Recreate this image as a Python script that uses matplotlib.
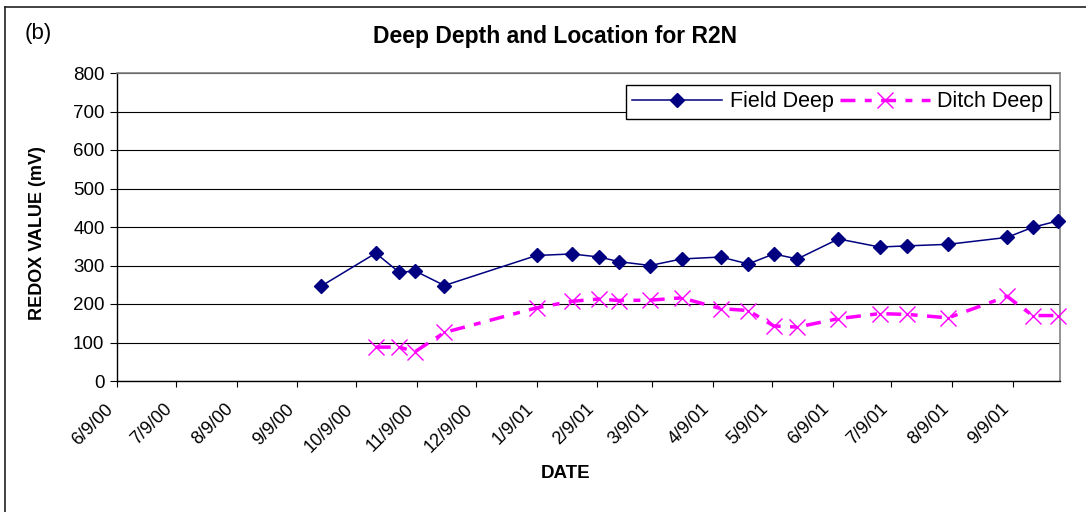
import matplotlib
matplotlib.use("Agg")
import matplotlib.pyplot as plt
import matplotlib.transforms as mtransforms
import numpy as np
import pandas as pd
from matplotlib.lines import Line2D

plt.rcParams["font.family"] = ["Liberation Sans", "DejaVu Sans"]

# sample dates and redox values (mV)
sample_dates = ["2000-09-21", "2000-10-19", "2000-10-31", "2000-11-08", "2000-11-23",
                "2001-01-09", "2001-01-27", "2001-02-10", "2001-02-20", "2001-03-08",
                "2001-03-24", "2001-04-13", "2001-04-27", "2001-05-10", "2001-05-22",
                "2001-06-12", "2001-07-03", "2001-07-17", "2001-08-07", "2001-09-06",
                "2001-09-19", "2001-10-02"]
field_deep = [246, 332, 282, 286, 248, 326, 330, 322, 310, 300, 317, 322, 304, 330,
              317, 369, 348, 351, 355, 373, 399, 416]
ditch_deep = [np.nan, 88, 88, 76, 126, 190, 207, 213, 209, 210, 216, 188, 183, 143,
              140, 162, 175, 173, 164, 220, 170, 170]

tick_dates = ["2000-06-09", "2000-07-09", "2000-08-09", "2000-09-09", "2000-10-09",
              "2000-11-09", "2000-12-09", "2001-01-09", "2001-02-09", "2001-03-09",
              "2001-04-09", "2001-05-09", "2001-06-09", "2001-07-09", "2001-08-09",
              "2001-09-09"]
tick_labels = ["6/9/00", "7/9/00", "8/9/00", "9/9/00", "10/9/00", "11/9/00", "12/9/00",
               "1/9/01", "2/9/01", "3/9/01", "4/9/01", "5/9/01", "6/9/01", "7/9/01",
               "8/9/01", "9/9/01"]

x = pd.to_datetime(sample_dates)
xt = pd.to_datetime(tick_dates)

W, H = 1086, 512
fig = plt.figure(figsize=(W / 100, H / 100), dpi=100)
ax = fig.add_axes([117 / W, 1 - 381 / H, (1060 - 117) / W, (381 - 73) / H])

ax.set_ylim(0, 800)
ax.set_yticks(range(0, 801, 100))
ax.set_xlim(pd.Timestamp("2000-06-09"), pd.Timestamp("2001-10-03"))
ax.yaxis.grid(True, color="black", lw=0.8)
ax.set_axisbelow(True)

ax.plot(x, field_deep, color="#000080", lw=1.1, marker="D", ms=7.5,
        label="Field Deep", clip_on=False, zorder=3)
m = ~np.isnan(np.array(ditch_deep))
ax.plot(x[m], np.array(ditch_deep)[m], color="#FF00FF", lw=2.5,
        ls=(0, (4.3, 2.7, 2, 2.7)), marker="x", ms=12, mew=1.0,
        label="Ditch Deep", clip_on=False, zorder=3)

ax.set_xticks(xt)
ax.set_xticklabels(tick_labels, rotation=45, ha="right", va="center",
                   rotation_mode="anchor")
ax.tick_params(axis="x", direction="out", length=4.5, width=0.8, labelsize=13, pad=14)
ax.tick_params(axis="y", direction="out", length=5, width=0.8, labelsize=13.5, pad=4)
shift = mtransforms.ScaledTranslation(-6 / 100, 0, fig.dpi_scale_trans)
for lab in ax.get_xticklabels():
    lab.set_transform(lab.get_transform() + shift)

for s in ["left", "bottom"]:
    ax.spines[s].set_color("black")
    ax.spines[s].set_linewidth(1.0)
for s in ["right", "top"]:
    ax.spines[s].set_color("#808080")
    ax.spines[s].set_linewidth(1.2)

leg = ax.legend(loc="upper right", bbox_to_anchor=(1050 / W, 1 - 85 / H),
                bbox_transform=fig.transFigure, ncol=2, fontsize=15.5,
                frameon=True, fancybox=False, edgecolor="black", framealpha=1,
                handlelength=4.2, handletextpad=0.33, columnspacing=0.3,
                borderpad=0.3, borderaxespad=0)
leg.get_frame().set_linewidth(1.0)

fig.text(555 / W, 1 - 37 / H, "Deep Depth and Location for R2N", ha="center",
         va="center", fontsize=16.5, fontweight="bold")
fig.text(25 / W, 1 - 33 / H, "(b)", ha="left", va="center", fontsize=16)
fig.text(38 / W, 1 - 233 / H, "REDOX VALUE (mV)", ha="center", va="center",
         rotation=90, fontsize=13, fontweight="bold")
fig.text(566 / W, 1 - 473 / H, "DATE", ha="center", va="center", fontsize=13.5,
         fontweight="bold")

# outer chart border (left and top edges visible)
fig.add_artist(Line2D([5 / W, 5 / W], [0, 1 - 7 / H], transform=fig.transFigure,
                      color="#222222", lw=1.2))
fig.add_artist(Line2D([5 / W, 1], [1 - 7 / H, 1 - 7 / H], transform=fig.transFigure,
                      color="#222222", lw=1.2))

fig.savefig("out.png", dpi=100)
